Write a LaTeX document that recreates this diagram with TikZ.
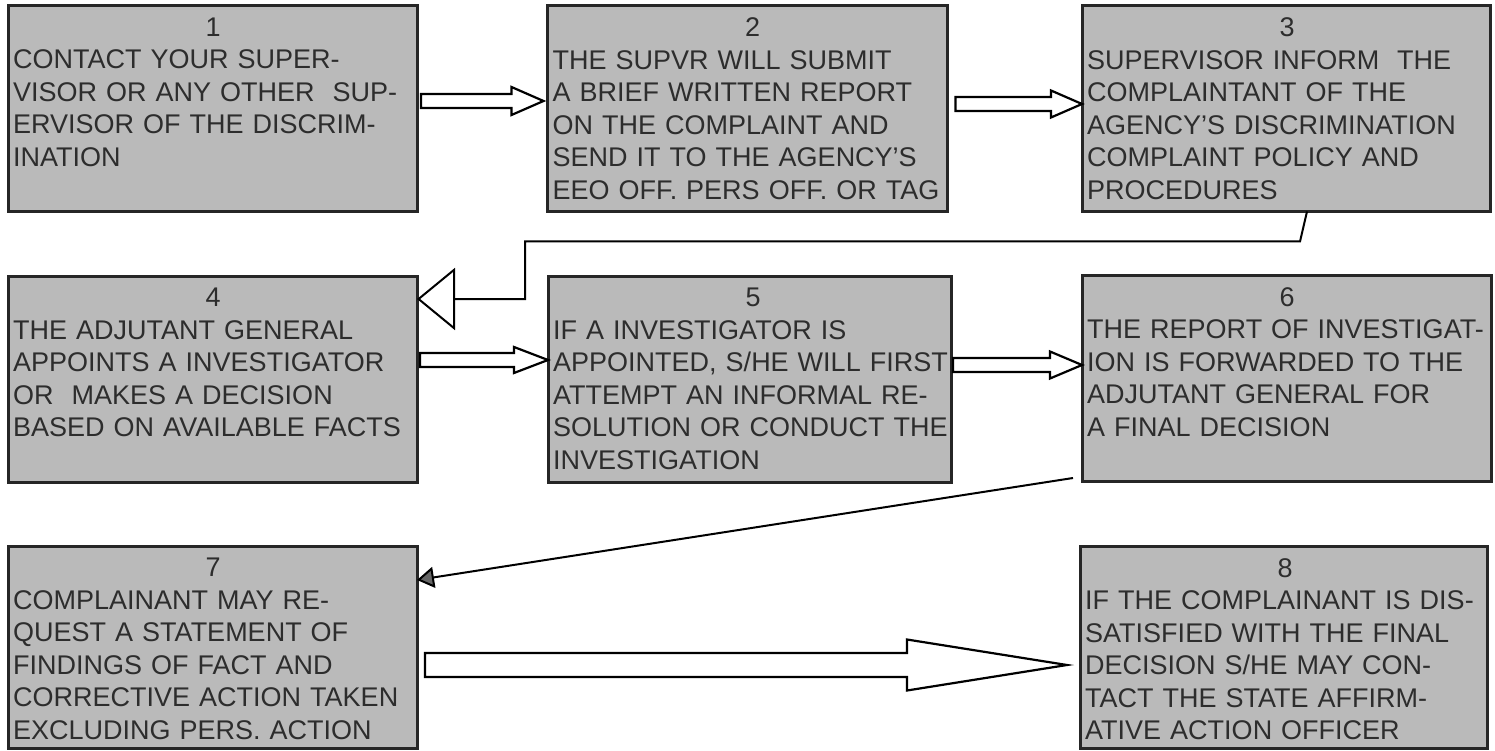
\documentclass[tikz,border=0pt]{standalone}
\usepackage{fontspec}
\setmainfont{Liberation Sans}
\definecolor{boxgray}{RGB}{186,186,186}
\definecolor{inkgray}{RGB}{45,45,45}
\usetikzlibrary{calc,arrows.meta}

\tikzset{
  stepbox/.style={draw=black!85, line width=3pt, fill=boxgray, outer sep=0pt,
    inner sep=0pt, minimum width=409pt, minimum height=206pt},
  steptext/.style={anchor=north west, inner sep=0pt, text width=400pt,
    align=left, text=inkgray, font=\fontsize{27}{32.5}\selectfont},
  hollow/.style={draw=black, line width=2.2pt, fill=white, line join=miter},
  feed/.style={draw=black, line width=2pt}
}
\newcommand{\stepnum}[1]{\makebox[\linewidth]{#1}\\}
% from, to, shaft half, head half, head length
\newcommand{\blockarrow}[5]{%
  \path[hollow] let \p1=#1, \p2=#2 in
    (\x1,\y1+#3) -- (\x2-#5,\y1+#3) -- (\x2-#5,\y1+#4) -- (\x2,\y1)
    -- (\x2-#5,\y1-#4) -- (\x2-#5,\y1-#3) -- (\x1,\y1-#3) -- cycle;}

\begin{document}
\begin{tikzpicture}[x=1pt, y=-1pt]
  \fill[white] (0,0) rectangle (1495,751);
  \useasboundingbox (0,0) rectangle (1495,751);

  \node[stepbox] (s1) at (212.5,108.5) {};
  \node[stepbox, minimum width=400pt] (s2) at (747.5,108.5) {};
  \node[stepbox, minimum width=408pt] (s3) at (1286,108.5) {};
  \node[stepbox] (s4) at (212.5,379) {};
  \node[stepbox, minimum width=403pt] (s5) at (749.5,379) {};
  \node[stepbox] (s6) at (1286.5,378) {};
  \node[stepbox, minimum height=202pt] (s7) at (212.5,647) {};
  \node[stepbox, minimum width=407pt, minimum height=202pt] (s8) at (1283.5,647) {};

  \node[steptext] (t1) at ($(s1.north west)+(5,12)$) {\stepnum{1}
    CONTACT YOUR SUPER-\\ VISOR OR ANY OTHER\ \ SUP-\\ ERVISOR OF THE DISCRIM-\\ INATION};
  \node[steptext] (t2) at ($(s2.north west)+(5,12)$) {\stepnum{2}
    THE SUPVR WILL SUBMIT\\ A BRIEF WRITTEN REPORT\\ ON THE COMPLAINT AND\\
    SEND IT TO THE AGENCY'S\\ EEO OFF. PERS OFF. OR TAG};
  \node[steptext] (t3) at ($(s3.north west)+(5,12)$) {\stepnum{3}
    SUPERVISOR INFORM\ \ THE\\ COMPLAINTANT OF THE\\ AGENCY'S DISCRIMINATION\\
    COMPLAINT POLICY AND\\ PROCEDURES};
  \node[steptext] (t4) at ($(s4.north west)+(5,12)$) {\stepnum{4}
    THE ADJUTANT GENERAL\\ APPOINTS A INVESTIGATOR\\ OR\ \ MAKES A DECISION\\
    BASED ON AVAILABLE FACTS};
  \node[steptext] (t5) at ($(s5.north west)+(5,12)$) {\stepnum{5}
    IF A INVESTIGATOR IS\\ APPOINTED, S/HE WILL FIRST\\ ATTEMPT AN INFORMAL RE-\\
    SOLUTION OR CONDUCT THE\\ INVESTIGATION};
  \node[steptext] (t6) at ($(s6.north west)+(5,12)$) {\stepnum{6}
    THE REPORT OF INVESTIGAT-\\ ION IS FORWARDED TO THE\\ ADJUTANT GENERAL FOR\\
    A FINAL DECISION};
  \node[steptext] (t7) at ($(s7.north west)+(5,12)$) {\stepnum{7}
    COMPLAINANT MAY RE-\\ QUEST A STATEMENT OF\\ FINDINGS OF FACT AND\\
    CORRECTIVE ACTION TAKEN\\ EXCLUDING PERS. ACTION};
  \node[steptext] (t8) at ($(s8.north west)+(5,12)$) {\stepnum{8}
    IF THE COMPLAINANT IS DIS-\\ SATISFIED WITH THE FINAL\\ DECISION S/HE MAY CON-\\
    TACT THE STATE AFFIRM-\\ ATIVE ACTION OFFICER};

  \blockarrow{($(s1.east)+(4,-7.5)$)}{($(s2.west)+(-4,0)$)}{7pt}{14pt}{32pt}
  \blockarrow{($(s2.east)+(8,-4.5)$)}{(s3.west)}{7pt}{13.5pt}{31pt}
  \blockarrow{($(s4.east)+(3,-19)$)}{(s5.west)}{7pt}{13pt}{34pt}
  \blockarrow{($(s5.east)+(2,-14)$)}{(s6.west)}{7pt}{13.5pt}{32pt}
  \blockarrow{($(s7.east)+(8,18)$)}{($(s8.west)+(-13,0)$)}{12pt}{25.5pt}{160pt}

  \draw[feed, -{Triangle[open, length=38pt, width=62pt]}]
    ($(s3.south)+(21,0)$) -- ++(-7,30) -- ++(-775,0) |- ($(s4.north east)+(0,23)$);
  \draw[feed, -{Triangle[length=17pt, width=21pt, fill=black!60]}]
    ($(s6.south west)+(-9,-3)$) -- ($(s7.north east)+(0,34)$);
\end{tikzpicture}
\end{document}
